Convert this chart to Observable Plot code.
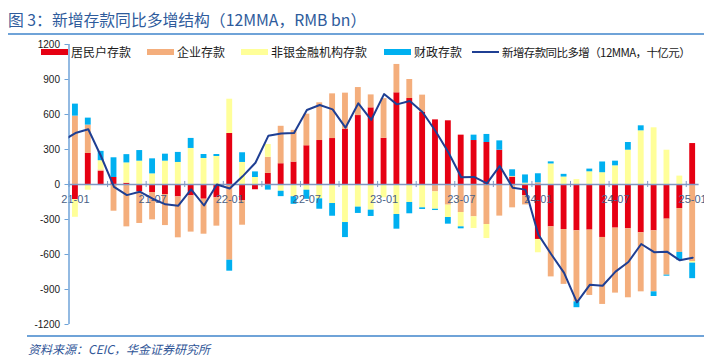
<!DOCTYPE html>
<html>
<head>
<meta charset="utf-8">
<script src="https://cdn.jsdelivr.net/npm/d3@7"></script>
<script src="https://cdn.jsdelivr.net/npm/@observablehq/plot@0.6"></script>
<style>
  html, body { margin: 0; padding: 0; background: #ffffff; }
  #wrap { position: relative; width: 704px; height: 359px; overflow: hidden; background: #fff;
          font-family: "Noto Sans CJK SC", "Noto Sans", "Liberation Sans", sans-serif; }
  #title { position: absolute; left: 8px; top: 10px; font-size: 15.8px; color: #2e5b9c; white-space: nowrap; line-height: 20px; }
  .rule { position: absolute; left: 8px; right: 0; height: 2px; background: #6fa3d8; }
  #chart { position: absolute; left: 0; top: 36px; }
  .lg { position: absolute; font-size: 12px; color: #1a1a1a; white-space: nowrap; line-height: 16px; }
  .sw { position: absolute; }
  #source { position: absolute; left: 28px; top: 341px; font-size: 12px; color: #2f5597; font-style: italic; white-space: nowrap; line-height: 16px; }
</style>
</head>
<body>
<div id="wrap">
  <div id="title">图 3：新增存款同比多增结构（12MMA，RMB bn）</div>
  <div class="rule" style="top:33px"></div>
  <div id="chart"></div>
  <div id="legend"></div>
  <div class="rule" style="top:335px;left:27px"></div>
  <div id="source">资料来源：CEIC，华金证券研究所</div>
</div>
<script>
// ---- data (RMB bn) ----
const months = ["21-01","21-02","21-03","21-04","21-05","21-06","21-07","21-08","21-09","21-10","21-11","21-12",
  "22-01","22-02","22-03","22-04","22-05","22-06","22-07","22-08","22-09","22-10","22-11","22-12",
  "23-01","23-02","23-03","23-04","23-05","23-06","23-07","23-08","23-09","23-10","23-11","23-12",
  "24-01","24-02","24-03","24-04","24-05","24-06","24-07","24-08","24-09","24-10","24-11","24-12","25-01"];

const seriesNames = ["居民户存款", "企业存款", "非银金融机构存款", "财政存款"];

const household = [-130, 266, 114, 60, 11, -63, -69, -86, -106, -97, -126, -114,
  437, -140, -45, 95, 178, 192, 332, 377, 394, 474, 591, 657,
  396, 786, 737, 620, 554, 546, 423, 377, 360, 294, 64, -95,
  -471, -363, -386, -397, -391, -454, -374, -380, -414, -397, -297, -206, 351];

const corporate = [586, 243, 10, -229, -363, -271, -234, -266, -351, -311, -300, -243,
  -649, -209, 0, 138, 321, 272, 271, 323, 383, 309, 240, 111,
  340, 243, 163, 146, -63, -177, -240, -277, -343, -271, -200, -80,
  15, -429, -470, -609, -560, -574, -557, -591, -506, -523, -480, -376, -660];

const nonbank = [-151, -49, 80, 0, 174, 200, 91, 200, 189, 309, 223, 240,
  294, 189, 60, 110, -58, -105, -49, -123, -163, -326, -194, -220,
  -114, -257, -154, -200, -149, -106, -123, -100, -120, 0, 5, 11,
  -114, 176, 64, 42, 109, 101, 160, 294, 460, 486, 294, 72, -14];

const fiscal = [103, 60, 80, 169, 71, 91, 129, 60, 86, 86, 34, 17,
  -94, 83, 48, -48, -46, -65, -78, -89, -109, -129, -54, -54,
  0, -126, -97, -14, -11, -57, -17, 46, 69, 80, 57, 71,
  77, 18, 23, -50, 23, 92, 40, 66, 43, -40, -9, -70, -133];

// 12MMA line; first value is 20-12 (index -1), then 21-01 … 25-01
const lineLabel = "新增存款同比多增（12MMA，十亿元）";
const lineStartIndex = -1;
const lineValues = [375,
  441, 474, 240, -20, -91, -62, -122, -170, -182, -41, -180, 0,
  -34, 70, 186, 417, 438, 441, 639, 681, 644, 487, 696, 553,
  775, 687, 716, 619, 459, 276, 62, 65, 10, 159, -27, -44,
  -430, -598, -758, -1010, -860, -868, -747, -664, -510, -580, -576, -650, -627];

const yTicks = [-1200, -900, -600, -300, 0, 300, 600, 900, 1200];
const xLabelMonths = ["21-01","21-07","22-01","22-07","23-01","23-07","24-01","24-07","25-01"];
const xTickMonths = months.filter((m, i) => i % 3 === 0);

// ---- styles ----
const colors = ["#e60012", "#f4ae7c", "#ffff99", "#00b0f0"];
const lineColor = "#1f3f93";

// ---- build tables ----
const rows = [];
[household, corporate, nonbank, fiscal].forEach((arr, s) => {
  arr.forEach((v, i) => rows.push({i, v, s: seriesNames[s]}));
});
const lineRows = lineValues.map((v, k) => ({i: k + lineStartIndex, v}));
const idx = m => months.indexOf(m);

const plot = Plot.plot({
  width: 704,
  height: 298,
  marginLeft: 68.5,
  marginRight: 5.4,
  marginTop: 8,
  marginBottom: 10,
  style: {fontFamily: "'Liberation Sans', Arial, sans-serif", background: "transparent"},
  x: {domain: [-0.5, months.length - 0.5], axis: null},
  y: {domain: [-1200, 1200], axis: null},
  color: {domain: seriesNames, range: colors},
  marks: [
    Plot.rectY(rows, {
      x1: d => d.i - 0.5, x2: d => d.i + 0.5, y: "v", fill: "s",
      insetLeft: 3.5, insetRight: 3.5
    }),
    Plot.ruleY([0], {stroke: "#7f98c4", strokeWidth: 1.5}),
    Plot.ruleX(xTickMonths, {x: d => idx(d) - 0.5, y1: -26, y2: 26, stroke: "#7f98c4", strokeWidth: 1}),
    Plot.text(xLabelMonths, {x: d => idx(d), y: 0, text: d => d, dy: 15, fill: "#4a5f86", fontSize: 11}),
    Plot.ruleX([-0.5], {y1: yTicks[0], y2: yTicks[yTicks.length - 1], stroke: "#6fa3d8", strokeWidth: 1.5}),
    Plot.axisY({ticks: yTicks, tickSize: 4, tickPadding: 5, label: null, stroke: "#6fa3d8", fill: "#1a1a1a", fontSize: 10, tickFormat: d => String(d)}),
    Plot.lineY(lineRows, {x: "i", y: "v", stroke: lineColor, strokeWidth: 2, clip: true})
  ]
});
document.getElementById("chart").appendChild(plot);

// ---- legend ----
const legend = document.getElementById("legend");
const lgPos = [41, 147, 241, 384, 472];
const lgItems = seriesNames.map((n, k) => ({label: n, color: colors[k], type: "bar"}))
  .concat([{label: lineLabel, color: lineColor, type: "line"}]);
lgItems.forEach((it, k) => {
  const sw = document.createElement("div");
  sw.className = "sw";
  sw.style.left = lgPos[k] + "px";
  sw.style.width = "27px";
  sw.style.background = it.color;
  if (it.type === "bar") { sw.style.top = "49px"; sw.style.height = "6px"; }
  else { sw.style.top = "51px"; sw.style.height = "2px"; }
  legend.appendChild(sw);
  const t = document.createElement("div");
  t.className = "lg";
  t.style.left = (lgPos[k] + 30) + "px";
  t.style.top = "44px";
  if (it.type === "line") { t.style.fontSize = "11.5px"; t.style.letterSpacing = "-0.6px"; }
  t.textContent = it.label;
  legend.appendChild(t);
});
</script>
</body>
</html>
